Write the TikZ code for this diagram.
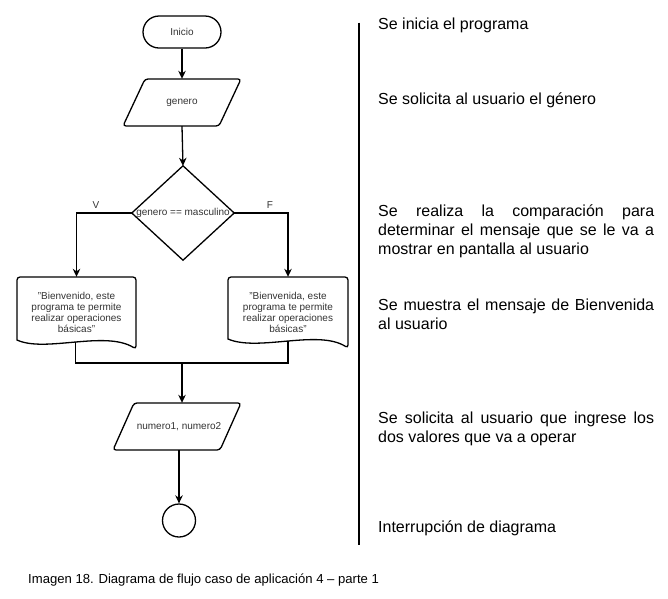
\documentclass[tikz,border=0pt]{standalone}
\usepackage{fontspec}
\setmainfont{Liberation Sans}
\usetikzlibrary{arrows.meta}
\definecolor{shapetext}{HTML}{333333}
\begin{document}
\begin{tikzpicture}[x=1pt,y=-1pt,
  flow/.style={line width=1.3pt, draw=black},
  arr/.style={flow, -{Stealth[length=8pt,width=7.5pt,inset=2.5pt]}},
  ftext/.style={font=\fontsize{10}{11}\selectfont, text=shapetext, align=center, inner sep=0pt},
  note/.style={font=\fontsize{16}{19}\selectfont, inner sep=0pt},
  notepar/.style={note, anchor=north west, text width=276pt, align=justify},
]
\useasboundingbox (0,0) rectangle (668,598);

% nodes
\node[ftext, draw, flow, minimum width=78pt, minimum height=32pt, rounded corners=16pt] (ini) at (182,32) {Inicio};
\node[ftext, minimum width=96pt, minimum height=47pt] (gen) at (182,102.5) {genero};
\draw[flow, rounded corners=3pt] (145,79) -- (241,79) -- (219,126) -- (123,126) -- cycle;

\node[ftext, minimum width=102pt, minimum height=94pt] (dec) at (183,213) {genero == masculino};
\draw[flow] (dec.north) -- (dec.east) -- (dec.south) -- (dec.west) -- cycle;

\node[ftext, minimum width=119pt, minimum height=71pt] (docL) at (76.5,312.5) {"Bienvenido, este\\programa te permite\\realizar operaciones\\básicas"};
\draw[flow, rounded corners=3pt] (17,340) -- (17,277) -- (136,277) -- (136,349) [sharp corners] .. controls (105,330) and (45,353) .. (17,340) -- cycle;
\coordinate (mL) at (75.4,342);

\node[ftext, minimum width=120pt, minimum height=71pt] (docR) at (288,312.5) {"Bienvenida, este\\programa te permite\\realizar operaciones\\básicas"};
\draw[flow, rounded corners=3pt] (228,339) -- (228,277) -- (348,277) -- (348,348) [sharp corners] .. controls (318,329) and (258,352) .. (228,339) -- cycle;
\coordinate (mR) at (288,341);

\coordinate (j) at (182,363);

\node[ftext, minimum width=100pt, minimum height=47pt] (num) at (179,426.5) {numero1, numero2};
\draw[flow, rounded corners=3pt] (134,403) -- (241,403) -- (220,450) -- (113,450) -- cycle;

\node[draw, flow, circle, minimum size=33pt, inner sep=0pt] (fin) at (179,520.5) {};

% connectors
\draw[arr] (ini) -- (gen.north);
\draw[arr] (gen.south) -- (dec.north);
\draw[arr] (dec.west) -| (docL.north);
\draw[arr] (dec.east) -| (docR.north);
\node[ftext] (lv) at (96,205) {V};
\node[ftext] (lf) at (270,205) {F};
\draw[flow] (mL) |- (j) -| (mR);
\draw[arr] (j) -- (j |- num.north);
\draw[arr] (num.south) -- (fin.north);

% divider
\coordinate (dtop) at (359,22.5);
\coordinate (dbot) at (359,545);
\draw[line width=2pt] (dtop) -- (dbot);

% notes
\node[note, anchor=west] (n1) at (378,25) {Se inicia el programa};
\node[note, anchor=west] (n2) at (378,100) {Se solicita al usuario el género};
\node[notepar] (n3) at (378,205) {\hyphenpenalty=10000\exhyphenpenalty=10000\tolerance=10000\emergencystretch=3em Se realiza la comparación para determinar el mensaje que se le va a mostrar en pantalla al usuario\par};
\node[notepar] (n4) at (378,299) {\hyphenpenalty=10000\tolerance=10000 Se muestra el mensaje de Bienvenida al usuario\par};
\node[notepar] (n5) at (378,411.5) {\hyphenpenalty=10000\tolerance=10000 Se solicita al usuario que ingrese los dos valores que va a operar\par};
\node[note, anchor=west] (n6) at (378,528) {Interrupción de diagrama};

\node[font=\fontsize{13.1}{15}\selectfont, anchor=west, inner sep=0pt] (cap) at (28,580) {Imagen 18. Diagrama de flujo caso de aplicación 4 – parte 1};
\end{tikzpicture}
\end{document}
